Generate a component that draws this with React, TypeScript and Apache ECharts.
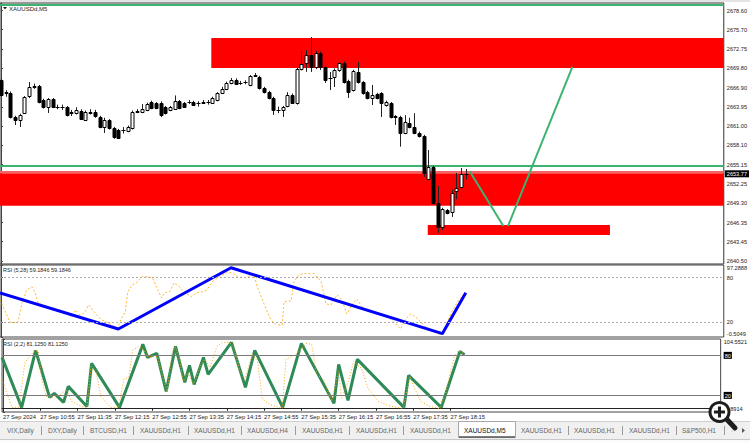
import React, { useEffect, useRef } from "react";
import * as echarts from "echarts";

const FONT = "Liberation Sans";
const symbolTitle = "XAUUSDd,M5";
const rsi1Title = "RSI (5,28) 59.1846 59.1846";
const rsi2Title = "RSI (2,2) 81.1250 81.1250";

// M5 candles, 27 Sep 10:15 -> 18:30 : [open, close, low, high]
const candles: number[][] = [
  [2668.05, 2665.77, 2665.5, 2668.3], [2666.2, 2666.1, 2665.5, 2666.5], [2666.07, 2662.42, 2662.2, 2666.3],
  [2662.42, 2661.96, 2661.2, 2662.6], [2661.96, 2662.72, 2660.9, 2662.9], [2663.03, 2665.46, 2662.9, 2665.6],
  [2665.61, 2666.98, 2665.3, 2667.75], [2666.98, 2667.2, 2666.7, 2667.5], [2667.14, 2664.7, 2664.5, 2667.3],
  [2665.01, 2663.94, 2663.7, 2665.2], [2663.94, 2665.16, 2663.03, 2665.3], [2665.16, 2663.94, 2663.8, 2665.3],
  [2663.94, 2663.9, 2663.6, 2664.3], [2663.9, 2663.94, 2663.5, 2664.3], [2663.94, 2662.72, 2662.5, 2664.1],
  [2663.18, 2663.1, 2662.57, 2663.5], [2663.03, 2663.48, 2662.8, 2663.9], [2663.33, 2662.11, 2662.0, 2663.6],
  [2661.96, 2663.18, 2661.8, 2663.4], [2663.18, 2663.1, 2662.8, 2663.6], [2663.18, 2662.57, 2662.3, 2663.5],
  [2662.42, 2660.9, 2660.7, 2662.6], [2660.9, 2661.96, 2659.98, 2662.3], [2661.96, 2660.74, 2660.5, 2662.1],
  [2660.74, 2659.37, 2659.1, 2660.9], [2660.44, 2659.22, 2659.07, 2660.6], [2660.44, 2660.4, 2659.9, 2660.9],
  [2660.29, 2660.9, 2660.1, 2661.1], [2660.74, 2663.18, 2660.5, 2663.4], [2663.2, 2663.33, 2663.0, 2663.6],
  [2663.18, 2663.64, 2663.0, 2664.4], [2663.48, 2664.4, 2663.3, 2664.6], [2664.7, 2663.79, 2663.6, 2664.9],
  [2664.55, 2663.79, 2663.6, 2664.7], [2664.55, 2662.72, 2662.4, 2664.8], [2663.94, 2663.03, 2662.8, 2664.1],
  [2663.48, 2663.94, 2663.3, 2664.1], [2663.64, 2664.85, 2663.5, 2665.7], [2664.85, 2663.79, 2663.6, 2665.0],
  [2664.55, 2663.94, 2663.8, 2664.7], [2664.7, 2664.65, 2664.4, 2665.0], [2664.7, 2664.24, 2664.1, 2664.9],
  [2664.55, 2664.5, 2664.0, 2664.8], [2664.6, 2664.7, 2664.4, 2665.0], [2664.7, 2664.7, 2664.3, 2665.0],
  [2664.55, 2665.31, 2664.4, 2665.5], [2665.01, 2666.07, 2664.8, 2666.2], [2666.07, 2666.68, 2665.9, 2667.0],
  [2666.68, 2667.59, 2666.5, 2667.8], [2667.59, 2668.05, 2667.4, 2668.35], [2668.05, 2667.44, 2667.3, 2668.3],
  [2667.6, 2667.55, 2667.3, 2667.9], [2667.7, 2667.75, 2667.4, 2668.0], [2667.29, 2668.66, 2667.1, 2668.8],
  [2668.7, 2668.8, 2668.5, 2669.1], [2668.51, 2666.83, 2666.6, 2668.7], [2666.83, 2666.22, 2666.0, 2667.0],
  [2666.22, 2665.31, 2665.1, 2666.4], [2665.31, 2663.48, 2662.72, 2665.5], [2663.5, 2663.45, 2663.0, 2664.0],
  [2663.48, 2663.94, 2662.42, 2664.1], [2664.09, 2665.77, 2663.9, 2666.2], [2665.77, 2664.55, 2664.4, 2666.0],
  [2664.55, 2669.72, 2664.3, 2669.9], [2669.72, 2670.48, 2669.5, 2672.46], [2670.64, 2671.85, 2669.3, 2672.6],
  [2671.85, 2670.03, 2669.27, 2674.59], [2670.03, 2672.16, 2669.7, 2672.5], [2672.16, 2670.03, 2669.57, 2672.4],
  [2670.03, 2668.05, 2667.6, 2670.2], [2668.35, 2668.3, 2666.53, 2669.27], [2668.51, 2669.57, 2666.98, 2669.8],
  [2669.57, 2670.64, 2669.3, 2670.8], [2670.64, 2667.75, 2667.5, 2670.9], [2667.9, 2666.22, 2665.31, 2668.1],
  [2666.53, 2669.42, 2666.3, 2669.6], [2669.27, 2667.75, 2667.5, 2670.79], [2667.75, 2666.07, 2665.8, 2667.9],
  [2666.22, 2665.31, 2665.1, 2666.4], [2665.31, 2665.77, 2664.24, 2667.29], [2665.92, 2665.31, 2665.1, 2666.1],
  [2666.07, 2664.55, 2662.42, 2666.2], [2664.24, 2664.7, 2664.0, 2664.9], [2664.55, 2662.42, 2662.2, 2664.7],
  [2662.57, 2662.42, 2661.2, 2662.7], [2662.42, 2659.98, 2657.9, 2662.6], [2659.98, 2661.58, 2659.8, 2662.7],
  [2661.5, 2660.9, 2660.7, 2662.3], [2660.9, 2659.98, 2659.8, 2663.0], [2659.98, 2659.53, 2659.3, 2660.2],
  [2659.53, 2653.89, 2653.3, 2659.7], [2652.98, 2654.81, 2652.8, 2657.4], [2654.81, 2649.33, 2649.1, 2655.0],
  [2649.33, 2645.68, 2644.76, 2651.9], [2645.68, 2648.41, 2645.2, 2648.6], [2648.26, 2647.81, 2647.6, 2648.4],
  [2647.96, 2650.85, 2647.2, 2651.4], [2651.15, 2651.61, 2649.9, 2653.89], [2651.76, 2653.74, 2651.5, 2654.66],
  [2653.8, 2653.77, 2652.9, 2654.5],
];

const timeLabels = [
  "27 Sep 2024", "27 Sep 10:55", "27 Sep 11:35", "27 Sep 12:15", "27 Sep 12:55", "27 Sep 13:35", "27 Sep 14:15",
  "27 Sep 14:55", "27 Sep 15:35", "27 Sep 16:15", "27 Sep 16:55", "27 Sep 17:35", "27 Sep 18:15",
];
const timeLabelIdx = [0, 8, 16, 24, 32, 40, 48, 56, 64, 72, 80, 88, 96];

const priceTicks = [2640.5, 2643.45, 2646.35, 2649.3, 2652.25, 2655.15, 2658.1, 2661.0, 2663.95, 2666.9, 2669.8, 2672.75, 2675.7, 2678.6];
const priceMin = 2640.04;
const priceMax = 2679.77;
const lastPrice = 2653.77;
const greenLevel = 2655.05;
const topLevel = 2679.55;

// zones: [startIndex, endIndex(null = right edge), top price, bottom price]
const zoneUpper = [44.8, null, 2674.44, 2669.88];
const zoneMiddle = [null, null, 2653.85, 2648.92];
const zoneMiddleEdge = [null, null, 2654.2, 2653.85];
const zoneLower = [90.9, 129.7, 2645.98, 2644.46];

// projected path [candle index, price]
const projDown = [[99.8, 2654.2], [107, 2645.83]];
const projUp = [[108, 2645.83], [121.7, 2670.03]];

const rsi1Ticks = [-0.5049, 20, 80, 97.2888];
const rsi1Min = -0.5049;
const rsi1Max = 97.2888;
const rsi2Ticks = [-4.8914, 20, 80, 104.5521];
const rsi2Min = -4.8914;
const rsi2Max = 104.5521;
const rsiLevels = [20, 80];

const rsi1Line = [
  [-0.2, 50], [1.9, 20], [3.6, 18.6], [4.5, 45.9], [5.5, 63.6], [6.6, 67.7], [7.2, 60.9], [7.9, 45.9], [8.7, 43.2],
  [9.8, 40.4], [12.5, 36.3], [14, 32.2], [15.1, 26.8], [15.9, 36.3], [16.8, 29.5], [17.8, 32.2], [18.7, 43.2],
  [19.5, 36.3], [20.4, 29.5], [21.4, 22.7], [22.5, 20], [23.6, 15.9], [24.8, 11.8], [25.7, 25.4], [26.5, 33.6],
  [27, 60.9], [28, 70.5], [28.9, 73.2], [30.1, 81.4], [31.2, 81.4], [32.3, 80], [33.1, 67.7], [34.2, 52.7],
  [34.8, 59.5], [35.9, 60.9], [36.9, 73.2], [38, 67.7], [39.1, 59.5], [40.6, 54.1], [41.6, 59.5], [42.9, 60.9],
  [43.9, 63.6], [45, 74.5], [46.5, 81.4], [48.2, 86.8], [49.3, 86.8], [50.3, 81.4], [51.8, 80], [53.9, 84.1],
  [54.6, 67.7], [56.1, 43.2], [57.5, 22.7], [58.6, 15.9], [59.9, 15.9], [60.3, 47.3], [61.8, 48.6], [62.4, 74.5],
  [63.5, 84.1], [64.5, 85.5], [66.7, 85.5], [67.3, 81.4], [68.2, 74.5], [69.2, 44.5], [70.3, 43.2], [71.6, 56.8],
  [72.6, 50], [73.7, 30.9], [74.7, 43.2], [75.8, 51.4], [76.6, 43.2], [77.3, 37.7], [78.8, 35], [79.8, 30.9],
  [80.9, 29.5], [81.9, 28.2], [83, 24.1], [84.1, 17.2], [85.1, 10.4], [86.2, 24.1], [87.3, 30.9], [88.3, 26.8],
  [89.4, 20], [90.4, 13.2], [91.7, 9.1], [93.2, 3.6], [94.1, 3.6], [94.9, 17.2], [96, 33.6], [97.5, 50], [98.9, 59.5],
];
const rsi1Trend = [[-0.2, 59.5], [25, 10.4], [49, 93.6], [94, 4.0], [99, 59.5]];

const rsi2Line = [
  [-0.2, 77], [4, 2], [7, 87.5], [10, 17], [11, 23], [13, 9.5], [14, 33.5], [18, 3.5], [19, 68], [25, 2],
  [30, 96.5], [31, 77], [33, 83], [35, 26], [37, 93.5], [39, 39.5], [40, 65], [41, 36.5], [43, 77], [44, 51.5],
  [49, 99.5], [52, 32], [54, 87.5], [60, 2], [64, 98], [71, 8], [72, 66.5], [74, 12.5], [76, 74], [86, 2],
  [87, 50], [94, 2], [98, 86], [99, 81.13],
];
const rsi2Signal = [
  [-0.2, 44], [1.9, 2], [3.4, 2], [4.7, 69.5], [6.8, 87.5], [7.6, 86], [8.3, 44], [9.3, 18.5], [10.4, 17],
  [12.1, 20], [13.6, 29], [14.7, 11], [16.8, 3.5], [18, 2], [18.9, 63.5], [20, 54.5], [21, 18.5], [23.1, 2],
  [24.8, 2], [25.9, 44], [27, 47], [27.8, 87.5], [29.1, 93.5], [30.1, 89], [31.2, 77], [33.1, 78.5], [34.4, 44],
  [35.2, 26], [36.3, 84.5], [36.9, 93.5], [38, 69.5], [38.7, 39.5], [39.7, 54.5], [40.8, 36.5], [42.3, 63.5],
  [43.3, 74], [44.4, 62], [45.9, 93.5], [47, 99.5], [48.6, 99.5], [49.7, 89], [50.7, 59], [51.8, 44], [53.5, 81.5],
  [54.6, 71], [55.6, 15.5], [57.1, 6.5], [59.9, 0.5], [60.7, 74], [62, 78.5], [63.1, 83], [65, 98], [66.2, 96.5],
  [67.3, 51.5], [68.8, 44], [70.5, 11], [72, 56], [72.6, 15.5], [74.1, 41], [75.2, 71], [76.9, 60.5], [78.3, 30.5],
  [80.5, 11], [83.2, 3.5], [85.8, 0.5], [87.3, 48.5], [88.3, 30.5], [89.6, 11], [91.5, 3.5], [93.6, 0.5],
  [94.9, 21.5], [96, 56], [97, 81.5], [98.1, 86], [98.9, 81.5],
];

const tabNames = [
  "VIX,Daily", "DXY,Daily", "BTCUSD,H1", "XAUUSDd,H1", "XAUUSDd,H1", "XAUUSDd,H4", "XAUUSDd,H1", "XAUUSDd,H1",
  "XAUUSDd,H1", "XAUUSDd,M5", "XAUUSDd,H1", "XAUUSDd,H1", "XAUUSDd,H1", "S&P500,H1",
];
const activeTab = 9;

const X_MIN = -0.2;
const X_MAX = 153.94;

export default function App() {
  const ref = useRef<HTMLDivElement>(null);
  useEffect(() => {
    if (!ref.current) return;
    const chart = echarts.init(ref.current, null, { renderer: "svg" });

    const zoneItem = (z: any[], color: string) => [
      { xAxis: z[0] === null ? X_MIN : z[0], yAxis: z[2], itemStyle: { color, opacity: 1 } },
      { xAxis: z[1] === null ? X_MAX : z[1], yAxis: z[3] },
    ];

    const levelLines = (color: string, type: any, width: number) => ({
      silent: true,
      symbol: ["none", "none"],
      label: { show: false },
      lineStyle: { color, type, width },
      emphasis: { disabled: true },
      data: rsiLevels.map((v) => ({ yAxis: v })),
    });

    const tabX = [7, 48, 90, 140, 194, 247, 302, 356, 410, 464, 521, 574, 629, 682];
    const sepX = [41, 83, 133, 188, 241, 295, 349, 403, 568, 622, 676, 724];

    const graphics: any[] = [
      { type: "rect", shape: { x: 0, y: 0, width: 750, height: 2 }, style: { fill: "#e4e4e4" }, silent: true },
      { type: "polygon", shape: { points: [[3, 7], [7, 7], [5, 9.5]] }, style: { fill: "#222" }, silent: true },
      { type: "text", x: 9, y: 8.5, style: { text: symbolTitle, font: `6px "${FONT}"`, fill: "#222", verticalAlign: "middle" }, silent: true },
      { type: "text", x: 3, y: 269.5, style: { text: rsi1Title, font: `5.5px "${FONT}"`, fill: "#222", verticalAlign: "middle" }, silent: true },
      { type: "text", x: 3, y: 344, style: { text: rsi2Title, font: `5.5px "${FONT}"`, fill: "#222", verticalAlign: "middle" }, silent: true },
      // tab bar
      { type: "rect", shape: { x: 0, y: 421, width: 750, height: 22 }, style: { fill: "#f0f0f0" }, silent: true },
      { type: "line", shape: { x1: 0, y1: 421.5, x2: 750, y2: 421.5 }, style: { stroke: "#d0d0d0", lineWidth: 1 }, silent: true },
      { type: "rect", shape: { x: 458.5, y: 421.5, width: 57, height: 16 }, style: { fill: "#ffffff", stroke: "#a8a8a8", lineWidth: 1 }, silent: true },
      { type: "line", shape: { x1: 459, y1: 437, x2: 515, y2: 437 }, style: { stroke: "#555", lineWidth: 1.5 }, silent: true },
      { type: "rect", shape: { x: 0, y: 439, width: 750, height: 4 }, style: { fill: "#fbfbfb" }, silent: true },
      { type: "line", shape: { x1: 0, y1: 439.5, x2: 750, y2: 439.5 }, style: { stroke: "#c8c8c8", lineWidth: 1 }, silent: true },
      ...tabNames.map((t, i) => ({
        type: "text", x: tabX[i], y: 430.5,
        style: { text: t, font: `6.5px "${FONT}"`, fill: i === activeTab ? "#111" : "#666", verticalAlign: "middle" },
        silent: true,
      })),
      ...sepX.map((x) => ({
        type: "line", shape: { x1: x + 0.5, y1: 426, x2: x + 0.5, y2: 435 }, style: { stroke: "#9a9a9a", lineWidth: 1 }, silent: true,
      })),
      { type: "text", x: 731, y: 430.5, style: { text: "-", font: `7px "${FONT}"`, fill: "#bbb", verticalAlign: "middle" }, silent: true },
      { type: "polygon", shape: { points: [[742, 428], [742, 433], [745, 430.5]] }, style: { fill: "#555" }, silent: true },
      // magnifier icon
      { type: "line", shape: { x1: 727, y1: 419.5, x2: 735, y2: 428 }, style: { stroke: "#1e1e1e", lineWidth: 5, lineCap: "round" }, silent: true, z: 100 },
      { type: "circle", shape: { cx: 719.5, cy: 412, r: 9.5 }, style: { fill: "rgba(255,255,255,0.92)", stroke: "#1e1e1e", lineWidth: 3 }, silent: true, z: 100 },
      { type: "line", shape: { x1: 714, y1: 412, x2: 725, y2: 412 }, style: { stroke: "#1e1e1e", lineWidth: 3 }, silent: true, z: 101 },
      { type: "line", shape: { x1: 719.5, y1: 406.5, x2: 719.5, y2: 417.5 }, style: { stroke: "#1e1e1e", lineWidth: 3 }, silent: true, z: 101 },
    ];

    const yLabelBase = { fontSize: 5.6, color: "#1a1a1a", fontFamily: FONT, margin: 3 };

    const option: any = {
      animation: false,
      backgroundColor: "#ffffff",
      grid: [
        { left: 0, top: 3, width: 726, height: 261, show: true, borderColor: "#333", borderWidth: 1, backgroundColor: "#fff" },
        { left: 0, top: 265, width: 726, height: 72, show: true, borderColor: "#444", borderWidth: 1, backgroundColor: "#fff" },
        { left: 0, top: 339, width: 726, height: 73, show: true, borderColor: "#444", borderWidth: 1, backgroundColor: "#fff" },
      ],
      xAxis: [
        { type: "value", gridIndex: 0, min: X_MIN, max: X_MAX, show: false },
        { type: "value", gridIndex: 1, min: X_MIN, max: X_MAX, show: false },
        {
          type: "value", gridIndex: 2, min: X_MIN, max: X_MAX,
          axisLine: { show: true, lineStyle: { color: "#222", width: 1 } },
          axisTick: { show: true, customValues: timeLabelIdx, length: 2, lineStyle: { color: "#222" } },
          splitLine: { show: false },
          axisLabel: {
            customValues: timeLabelIdx,
            formatter: (v: number) => timeLabels[timeLabelIdx.indexOf(Math.round(v))] ?? "",
            align: "left", fontSize: 5.8, color: "#1a1a1a", fontFamily: FONT, margin: 2,
          },
        },
      ],
      yAxis: [
        {
          type: "value", gridIndex: 0, position: "right", min: priceMin, max: priceMax,
          axisLine: { show: true, lineStyle: { color: "#444" } },
          axisTick: { show: true, customValues: priceTicks, length: 2, lineStyle: { color: "#444" } },
          splitLine: { show: false },
          axisLabel: { ...yLabelBase, customValues: priceTicks, formatter: (v: number) => v.toFixed(2) },
        },
        {
          type: "value", gridIndex: 1, position: "right", min: rsi1Min, max: rsi1Max,
          axisLine: { show: true, lineStyle: { color: "#444" } },
          axisTick: { show: true, customValues: rsi1Ticks, length: 2, lineStyle: { color: "#444" } },
          splitLine: { show: false },
          axisLabel: {
            ...yLabelBase, customValues: rsi1Ticks,
            verticalAlignMaxLabel: "top", verticalAlignMinLabel: "bottom",
            formatter: (v: number) => (rsiLevels.includes(v) ? String(v) : v.toFixed(4)),
          },
        },
        {
          type: "value", gridIndex: 2, position: "right", min: rsi2Min, max: rsi2Max,
          axisLine: { show: true, lineStyle: { color: "#444" } },
          axisTick: { show: true, customValues: rsi2Ticks, length: 2, lineStyle: { color: "#444" } },
          splitLine: { show: false },
          axisLabel: {
            ...yLabelBase, customValues: rsi2Ticks,
            verticalAlignMaxLabel: "top", verticalAlignMinLabel: "bottom",
            formatter: (v: number) => (rsiLevels.includes(v) ? `{box|${v}}` : v.toFixed(4)),
            rich: { box: { backgroundColor: "#000", color: "#fff", fontSize: 5.6, fontFamily: FONT, padding: [1, 1, 0, 1] } },
          },
        },
      ],
      series: [
        {
          type: "line", xAxisIndex: 0, yAxisIndex: 0, z: 1, silent: true,
          data: [[X_MIN, priceMin]], symbol: "none", lineStyle: { opacity: 0 },
          markArea: {
            silent: true, label: { show: false }, emphasis: { disabled: true },
            data: [
              zoneItem(zoneUpper, "#ff0000"),
              zoneItem(zoneMiddle, "#ff0000"),
              zoneItem(zoneMiddleEdge, "#f46464"),
              zoneItem(zoneLower, "#ff0000"),
            ],
          },
          markLine: {
            silent: true, symbol: ["none", "none"], label: { show: false }, emphasis: { disabled: true },
            lineStyle: { color: "#3cb371", width: 2, type: "solid" },
            data: [{ yAxis: greenLevel }, { yAxis: topLevel }],
          },
        },
        {
          type: "custom", xAxisIndex: 0, yAxisIndex: 0, z: 5, silent: true,
          data: candles.map((d, i) => [i, d[0], d[1], d[2], d[3]]),
          encode: { x: 0, y: [1, 2, 3, 4] },
          renderItem: (params: any, api: any) => {
            const i = api.value(0);
            const o = api.value(1), c = api.value(2), l = api.value(3), h = api.value(4);
            const pO = api.coord([i, o]);
            const pC = api.coord([i, c]);
            const pL = api.coord([i, l]);
            const pH = api.coord([i, h]);
            const x = Math.round(pO[0]) + 0.5;
            const top = Math.round(Math.min(pO[1], pC[1]));
            const bot = Math.round(Math.max(pO[1], pC[1]));
            const bull = c > o;
            const children: any[] = [
              { type: "line", shape: { x1: x, y1: pH[1], x2: x, y2: pL[1] }, style: { stroke: "#222", lineWidth: 1 } },
            ];
            if (bot - top < 1) {
              children.push({ type: "line", shape: { x1: x - 2, y1: top + 0.5, x2: x + 2, y2: top + 0.5 }, style: { stroke: "#000", lineWidth: 1 } });
            } else {
              children.push({
                type: "rect",
                shape: { x: x - 1.5, y: top + 0.5, width: 3, height: bot - top },
                style: bull ? { fill: "#fff", stroke: "#000", lineWidth: 1 } : { fill: "#000", stroke: "#000", lineWidth: 1 },
              });
            }
            return { type: "group", children };
          },
        },
        {
          type: "line", xAxisIndex: 0, yAxisIndex: 0, z: 7, silent: true,
          data: [[X_MAX, lastPrice]], symbol: "none", lineStyle: { width: 0, color: "rgba(0,0,0,0)" },
          markLine: {
            silent: true, symbol: ["none", "none"], emphasis: { disabled: true },
            lineStyle: { color: "rgba(0,0,0,0)", width: 0.01 },
            label: {
              show: true, position: "end", distance: 1, formatter: lastPrice.toFixed(2),
              backgroundColor: "#000", color: "#fff", fontSize: 5.6, fontFamily: FONT, padding: [1, 2, 0, 2],
            },
            data: [{ yAxis: lastPrice }],
          },
        },
        {
          type: "line", xAxisIndex: 0, yAxisIndex: 0, z: 6, silent: true, data: projDown, symbol: "none",
          lineStyle: { color: "#3cb371", width: 2 },
        },
        {
          type: "line", xAxisIndex: 0, yAxisIndex: 0, z: 6, silent: true, data: projUp, symbol: "none",
          lineStyle: { color: "#3cb371", width: 2 },
        },
        {
          type: "line", xAxisIndex: 1, yAxisIndex: 1, z: 3, silent: true, data: rsi1Line, symbol: "none",
          lineStyle: { color: "#ffa500", width: 0.8, type: [2, 2] },
          markLine: levelLines("#a9a9a9", [2, 2], 1),
        },
        {
          type: "line", xAxisIndex: 1, yAxisIndex: 1, z: 4, silent: true, data: rsi1Trend, symbol: "none",
          lineStyle: { color: "#0000ff", width: 3 },
        },
        {
          type: "line", xAxisIndex: 2, yAxisIndex: 2, z: 3, silent: true, data: rsi2Line, symbol: "none",
          lineStyle: { color: "#2e8b57", width: 3 },
          markLine: levelLines("#7a7a7a", "solid", 1.2),
        },
        {
          type: "line", xAxisIndex: 2, yAxisIndex: 2, z: 4, silent: true, data: rsi2Signal, symbol: "none",
          lineStyle: { color: "#ffa500", width: 1, type: [1, 2] },
        },
      ],
      graphic: graphics,
    };

    chart.setOption(option);
    return () => chart.dispose();
  }, []);

  return (
    <div
      ref={ref}
      style={{ position: "fixed", left: 0, top: 0, width: 750, height: 443, background: "#fff" }}
    />
  );
}
